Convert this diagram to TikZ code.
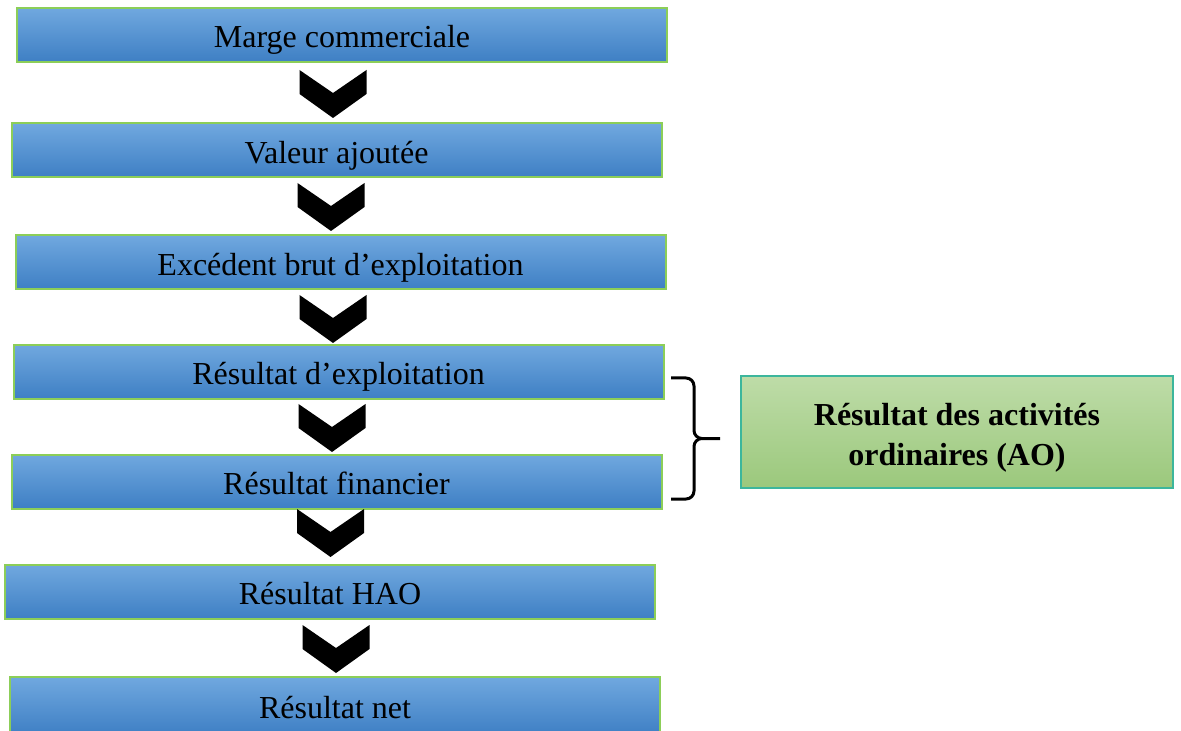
\documentclass[tikz,border=0pt]{standalone}
\usepackage{fontspec}
\setmainfont{Liberation Serif}
\begin{document}
\definecolor{bluetop}{RGB}{112,168,223}
\definecolor{bluemid}{RGB}{84,151,218}
\definecolor{bluebot}{RGB}{62,127,196}
\definecolor{boxgreen}{RGB}{140,206,88}
\definecolor{greentop}{RGB}{190,220,168}
\definecolor{greenbot}{RGB}{155,200,124}
\definecolor{tealborder}{RGB}{60,182,156}
\tikzset{
  stepbox/.style={draw=boxgreen, line width=1pt, top color=bluetop, middle color=bluemid, bottom color=bluebot,
    minimum width=325pt, minimum height=27pt, inner sep=0pt, text height=16pt, text depth=3.2pt,
    font=\fontsize{16}{19}\selectfont},
  aobox/.style={draw=tealborder, line width=0.8pt, top color=greentop, bottom color=greenbot,
    minimum width=216pt, minimum height=56pt, inner sep=0pt,
    font=\fontsize{16}{19.7}\selectfont\bfseries},
  pics/chev/.style={code={
    \fill[black] (-33.5,0) -- (0,23) -- (33.5,0) -- (33.5,24) -- (0,48) -- (-33.5,24) -- cycle;}},
  brace/.style={line width=1.5pt, line join=round}
}
\begin{tikzpicture}[x=0.5pt, y=-0.5pt]
\useasboundingbox (0,0) rectangle (1181,731);
\clip (0,0) rectangle (1181,731);
\node[stepbox] (b1) at (342,35) {Marge commerciale};
\node[stepbox] (b2) at (336.5,150.5) {Valeur ajoutée};
\node[stepbox] (b3) at (340.5,262.5) {Excédent brut d’exploitation};
\node[stepbox] (b4) at (338.5,372) {Résultat d’exploitation};
\node[stepbox] (b5) at (336.5,481.5) {Résultat financier};
\node[stepbox] (b6) at (330,592) {Résultat HAO};
\node[stepbox, minimum height=29pt] (b7) at (335,706) {Résultat net};
\pic at (333,70) {chev};
\pic at (331,183) {chev};
\pic at (333,295) {chev};
\pic at (332,404) {chev};
\pic at (330.5,509) {chev};
\pic at (336,625) {chev};
\node[aobox] (ao) at (957,432) {\raisebox{-2.75pt}[\height][\depth]{\begin{tabular}{@{}c@{}}Résultat des activités\\ordinaires (AO)\end{tabular}}};
\coordinate (bt) at (671,378);
\coordinate (bb) at (671,499);
\coordinate (bm) at (720,438.5);
\draw[brace] (bt) -- (686,378) to[out=0,in=90] (694,386) -- (694,430.5) to[out=-90,in=180] (702,438.5) -- (bm);
\draw[brace] (bb) -- (686,499) to[out=0,in=-90] (694,491) -- (694,446.5) to[out=90,in=180] (702,438.5);
\end{tikzpicture}
\end{document}
